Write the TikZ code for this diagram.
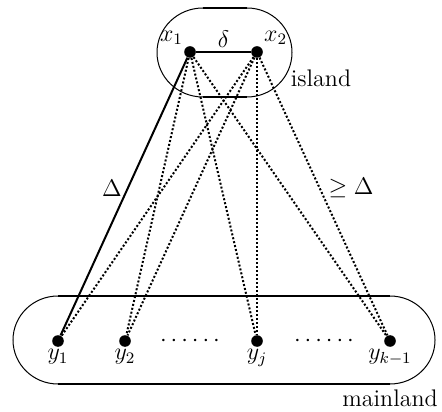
\documentclass[tikz,border=0pt]{standalone}
\usepackage{amsmath,amssymb}
\usepackage{tikz}
\usetikzlibrary{positioning}

\begin{document}
\begin{tikzpicture}[
  x=0.5pt,y=0.5pt,
  font=\fontsize{12pt}{14pt}\selectfont,
  vtx/.style={circle,fill=black,inner sep=0pt,minimum size=5.8pt},
  sol/.style={line width=1pt},
  dot/.style={line width=1pt,dash pattern=on 1pt off 1pt},
  rim/.style={line width=0.5pt},
]
\useasboundingbox (0,0) rectangle (442,411);
% island
\draw[sol] (203,403) -- (247,403);
\draw[sol] (203,314) -- (247,314);
\draw[rim] (203,403) arc[start angle=90,end angle=270,x radius=23pt,y radius=22.25pt];
\draw[rim] (247,403) arc[start angle=90,end angle=-90,x radius=22.5pt,y radius=22.25pt];
\node at (321,333) {island};
% mainland
\draw[sol] (58,115) -- (390,115);
\draw[sol] (58,27) -- (390,27);
\draw[rim] (58,115) arc[start angle=90,end angle=270,x radius=22.5pt,y radius=22pt];
\draw[rim] (390,115) arc[start angle=90,end angle=-90,x radius=22.5pt,y radius=22pt];
\node at (390,13) {mainland};
% vertices
\node[vtx,label={[label distance=-3pt]105:$x_1$}] (x1) at (190,359) {};
\node[vtx,label={[label distance=-3pt]68:$x_2$}] (x2) at (257,359) {};
\node[vtx,label={[label distance=-2.5pt]below:$y_1$}] (y1) at (58,70) {};
\node[vtx,label={[label distance=-2.5pt]below:$y_2$}] (y2) at (125,70) {};
\node[vtx,label={[label distance=-2.5pt]below:$y_j$}] (yj) at (257,70) {};
\node[vtx,label={[label distance=-2.5pt]below:$y_{k-1}$}] (yk) at (390,70) {};
\node (d1) at (192,70) {$\cdots\cdots$};
\node (d2) at (326,70) {$\cdots\cdots$};
% edges
\draw[sol] (x1) -- node[above,inner sep=1.5pt] {$\delta$} (x2);
\draw[sol] (x1) -- (y1);
\foreach \t in {y2,yj,yk} \draw[dot] (x1) -- (\t);
\foreach \t in {y1,y2,yj,yk} \draw[dot] (x2) -- (\t);
\node at (112,223) {$\Delta$};
\node at (351,223) {$\geq\Delta$};
\end{tikzpicture}
\end{document}
